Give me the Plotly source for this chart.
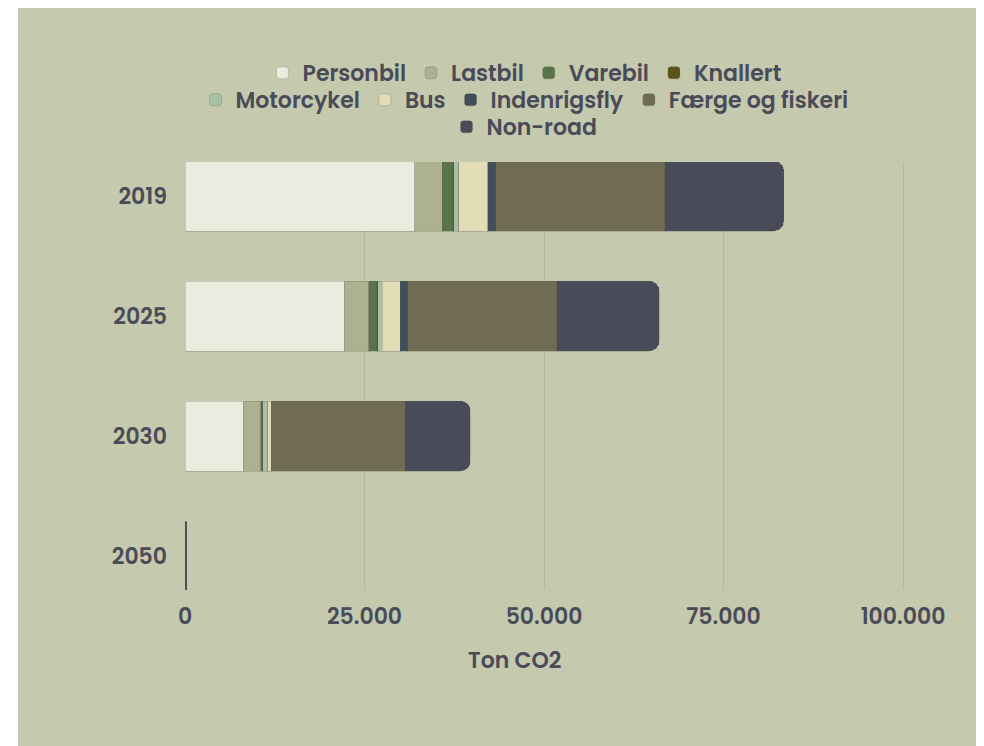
import plotly.graph_objects as go

years = ["2019", "2025", "2030", "2050"]
series_names = ["Personbil", "Lastbil", "Varebil", "Knallert", "Motorcykel",
                "Bus", "Indenrigsfly", "Færge og fiskeri", "Non-road"]

personbil = [32000, 22200, 8100, 0]
lastbil = [3850, 3400, 2450, 0]
varebil = [1450, 1100, 250, 0]
knallert = [150, 150, 50, 0]
motorcykel = [650, 650, 700, 0]
bus = [4050, 2500, 450, 0]
indenrigsfly = [1100, 1000, 0, 0]
faerge = [23550, 20750, 18700, 0]
non_road = [16600, 14300, 9050, 250]

x_ticks = [0, 25000, 50000, 75000, 100000]

values = [personbil, lastbil, varebil, knallert, motorcykel, bus,
          indenrigsfly, faerge, non_road]
colors = ["#ECEBDF", "#ADB091", "#5A744A", "#5C5418", "#A9C0A6",
          "#E2DDB6", "#3F4E58", "#6F6B55", "#4A4B59"]
legend_ids = ["legend", "legend", "legend", "legend",
              "legend2", "legend2", "legend2", "legend2", "legend3"]

TEXT = "#4A4B59"
BG = "#C5C9AD"
FONT = "Poppins, Inter, sans-serif"
FS = 22

fig = go.Figure()
for name, vals, col, lg in zip(series_names, values, colors, legend_ids):
    fig.add_trace(go.Bar(
        y=years, x=vals, name=name, orientation="h",
        marker=dict(color=col, line=dict(width=1, color="rgba(90,90,70,0.25)")),
        legend=lg,
    ))

# figure pixel geometry (page body adds an 8px offset)
W, H = 976, 738
L, T, B = 177, 154, 582
PW = 725
R = L + PW
PX_PER_UNIT = 718 / 100000
XMAX = PW / PX_PER_UNIT
ph = B - T

def px_x(p):
    return (p - L) / PW

def px_y(p):
    return (B - p) / ph

legend_common = dict(
    orientation="h", xanchor="center", yanchor="middle",
    x=px_x(516.5), bgcolor="rgba(0,0,0,0)", traceorder="normal",
    font=dict(family=FONT, size=FS, color=TEXT, weight=600),
    itemclick=False, itemdoubleclick=False,
)

fig.update_layout(
    width=W, height=H,
    margin=dict(l=L, r=W - R, t=T, b=H - B, pad=0),
    paper_bgcolor=BG,
    plot_bgcolor="rgba(0,0,0,0)",
    barmode="stack",
    bargap=1 - 70 / 120,
    barcornerradius=10,
    separators=",.",
    font=dict(family=FONT, color=TEXT, size=FS, weight=600),
    showlegend=True,
    legend=dict(y=px_y(65), **legend_common),
    legend2=dict(y=px_y(92), **legend_common),
    legend3=dict(y=px_y(119), **legend_common),
    xaxis=dict(
        range=[0, XMAX], tickvals=x_ticks, tickformat=",d",
        showgrid=True, gridcolor="#B3B79C", gridwidth=1,
        zeroline=False, showline=False, ticks="",
        ticklabelstandoff=11,
        tickfont=dict(family=FONT, size=FS, color=TEXT, weight=600),
        fixedrange=True,
    ),
    yaxis=dict(
        type="category", categoryorder="array", categoryarray=years,
        range=[3 + (590 - 556) / 120, -(196 - 162) / 120],
        showgrid=False, zeroline=False, showline=False, ticks="",
        ticklabelstandoff=17,
        tickfont=dict(family=FONT, size=FS, color=TEXT, weight=600),
        fixedrange=True,
    ),
    shapes=[dict(
        type="rect", xref="paper", yref="paper", layer="below",
        x0=px_x(-20), x1=px_x(10), y0=px_y(H + 10), y1=px_y(-10),
        fillcolor="white", line=dict(width=0),
    )],
    annotations=[dict(
        text="Ton CO2", xref="paper", yref="paper",
        x=px_x(506), y=px_y(652), xanchor="center", yanchor="middle",
        showarrow=False,
        font=dict(family=FONT, size=FS, color=TEXT, weight=600),
    )],
)

fig.write_html("out.html")
